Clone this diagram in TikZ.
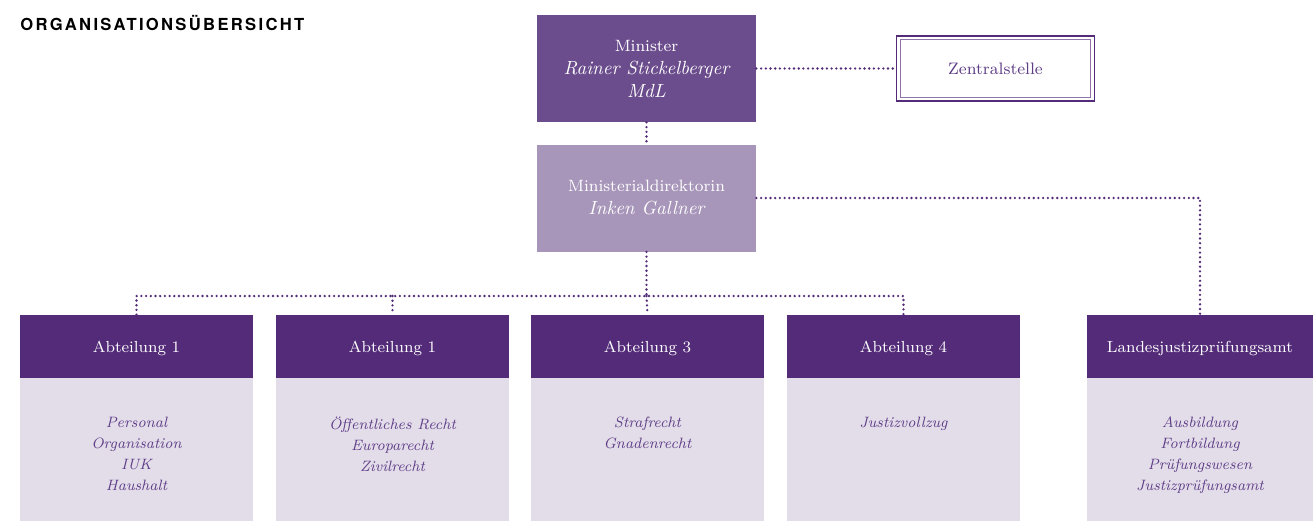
\documentclass[tikz,border=0pt]{standalone}
\usepackage{fontspec}
\newfontfamily\titlefont[LetterSpace=14]{TeX Gyre Heros}
\usetikzlibrary{positioning}
\definecolor{deeppurple}{HTML}{532B78}
\definecolor{midpurple}{HTML}{6B4C8C}
\definecolor{lightpurple}{HTML}{A796BA}
\definecolor{palepurple}{HTML}{E3DDEA}
\definecolor{inkpurple}{HTML}{5E3D86}
\newcommand\namefont{\itshape\fontsize{9.5}{11.5}\selectfont}
\tikzset{
  -|/.style={to path={-| (\tikztotarget) \tikztonodes}},
  conn/.style={draw=deeppurple, line width=1.3pt, line cap=round, dash pattern=on 0pt off 2.35pt},
  chief/.style={text=white, align=center, minimum width=109.5pt, minimum height=53.5pt,
    inner sep=0pt, font=\fontsize{8.2}{11.5}\selectfont},
  head/.style={fill=deeppurple, text=white, minimum width=116.5pt, minimum height=31.5pt,
    inner sep=0pt, text height=6pt, text depth=0pt, font=\fontsize{8}{10}\selectfont},
  body/.style={fill=palepurple, minimum width=116.5pt, minimum height=71.5pt, inner sep=0pt},
  items/.style={text=inkpurple, align=center, anchor=north, inner sep=0pt,
    font=\fontsize{7.5}{10.5}\selectfont\itshape}
}
\begin{document}
\begin{tikzpicture}[x=0.5pt,y=-0.5pt]
\useasboundingbox (0,0) rectangle (1313,521);
\node[anchor=base west, inner sep=0pt, font=\titlefont\bfseries\fontsize{8.3}{10}\selectfont]
  (title) at (20,30) {ORGANISATIONSÜBERSICHT};
% Leitung
\node[chief, fill=midpurple]   (minister) at (646.5,68.5)
  {Minister\\ {\namefont Rainer Stickelberger}\\ {\namefont MdL}};
\node[chief, fill=lightpurple] (md)       at (646.5,198)
  {Ministerialdirektorin\\ {\namefont Inken Gallner}};
\node[draw=deeppurple, line width=0.9pt, minimum width=99pt, minimum height=32.5pt,
  text=inkpurple, font=\fontsize{8.3}{10}\selectfont] (zentral) at (995.5,68.5) {Zentralstelle};
\draw[deeppurple!65, line width=0.45pt] ([shift={(2.3pt,-2.3pt)}]zentral.north west)
  rectangle ([shift={(-2.3pt,2.3pt)}]zentral.south east);
% Abteilungen
\begin{scope}[nodes=head]
  \node (h1) at ( 136.5,346.5) {Abteilung 1};
  \node (h2) at ( 392.5,346.5) {Abteilung 1};
  \node (h3) at ( 647.5,346.5) {Abteilung 3};
  \node (h4) at ( 903.5,346.5) {Abteilung 4};
  \node[minimum width=113pt] (h5) at (1200,346.5) {Landesjustizprüfungsamt};
\end{scope}
\begin{scope}[nodes=body]
  \node (b1) at ( 136.5,449.5) {};
  \node (b2) at ( 392.5,449.5) {};
  \node (b3) at ( 647.5,449.5) {};
  \node (b4) at ( 903.5,449.5) {};
  \node[minimum width=113pt] (b5) at (1200,449.5) {};
\end{scope}
\node[items] (t1) at ([yshift=-19.5pt]b1.north) {Personal\\ Organisation\\ IUK\\ Haushalt};
\node[items] (t2) at ([yshift=-19.5pt]b2.north) {Öffentliches Recht\\ Europarecht\\ Zivilrecht};
\node[items] (t3) at ([yshift=-19.5pt]b3.north) {Strafrecht\\ Gnadenrecht};
\node[items] (t4) at ([yshift=-19.5pt]b4.north) {Justizvollzug};
\node[items] (t5) at ([yshift=-19.5pt]b5.north) {Ausbildung\\ Fortbildung\\ Prüfungswesen\\ Justizprüfungsamt};
% Verbindungen
\coordinate (bus) at (646.5,296);
\path[conn] (minister) edge (zentral)
            (minister) edge (md)
            (md.east)  edge[-|] (h5.north)
            (md)       edge (bus)
            (bus)      edge (h3.north)
            (h2.north |- bus) edge (h2.north);
\draw[conn] (h1.north) |- (bus) -| (h4.north);
\end{tikzpicture}
\end{document}
